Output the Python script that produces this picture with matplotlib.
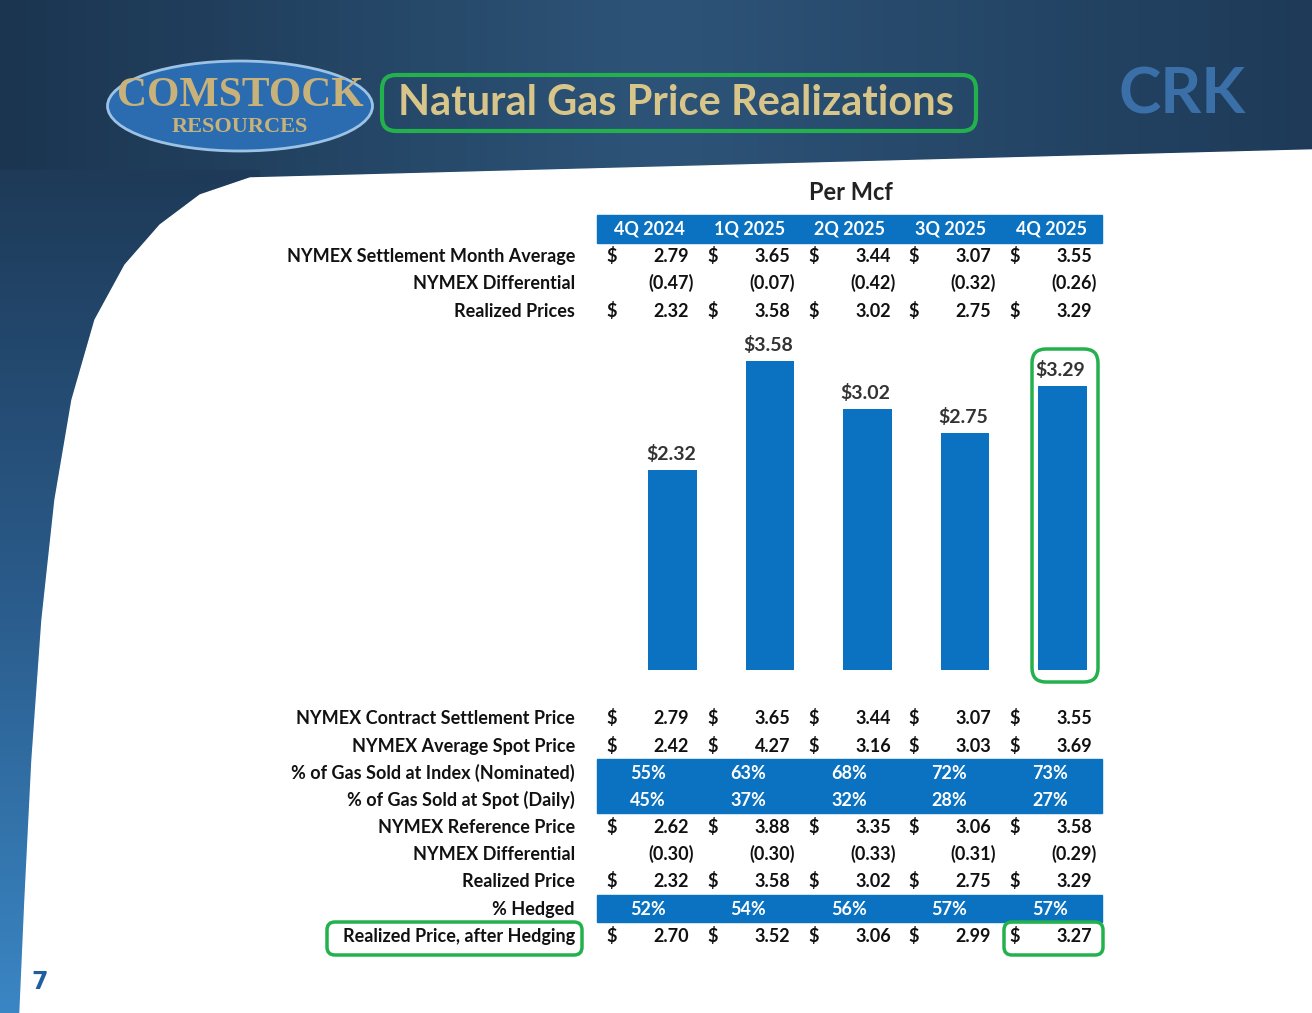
import matplotlib.pyplot as plt
import matplotlib.patches as mpatches
import numpy as np

quarters = ['4Q 2024', '1Q 2025', '2Q 2025', '3Q 2025', '4Q 2025']
settle_avg = [2.79, 3.65, 3.44, 3.07, 3.55]
diff_top = [-0.47, -0.07, -0.42, -0.32, -0.26]
realized = [2.32, 3.58, 3.02, 2.75, 3.29]
contract_settle = [2.79, 3.65, 3.44, 3.07, 3.55]
avg_spot = [2.42, 4.27, 3.16, 3.03, 3.69]
pct_index = [55, 63, 68, 72, 73]
pct_spot = [45, 37, 32, 28, 27]
ref_price = [2.62, 3.88, 3.35, 3.06, 3.58]
diff_bottom = [-0.30, -0.30, -0.33, -0.31, -0.29]
pct_hedged = [52, 54, 56, 57, 57]
after_hedge = [2.70, 3.52, 3.06, 2.99, 3.27]

W, H = 1312, 1013
fig = plt.figure(figsize=(W / 100, H / 100), dpi=100)
bg = fig.add_axes([0, 0, 1, 1])
bg.set_xlim(0, W)
bg.set_ylim(H, 0)
bg.axis('off')

# background: navy header with gradient, blue left strip, white body
grad = np.linspace(0, 1, 256).reshape(1, -1)
bg.imshow(grad, extent=[0, W, H, 0], cmap=plt.cm.colors.LinearSegmentedColormap.from_list(
    'n', ['#1b3550', '#2d5478', '#1e3a58']), aspect='auto', zorder=0)
vgrad = np.linspace(0, 1, 256).reshape(-1, 1)
bg.imshow(vgrad, extent=[0, 260, H, 170], cmap=plt.cm.colors.LinearSegmentedColormap.from_list(
    'v', ['#1e3a58', '#2a5b8a', '#3a86c4']), aspect='auto', zorder=1)
curve = [(250, 178), (200, 195), (160, 225), (125, 265), (95, 320), (72, 400),
         (55, 500), (42, 620), (32, 760), (25, 900), (20, H)]
white = [(W, H)] + curve[::-1] + [(W, 150)]
bg.add_patch(mpatches.Polygon(white, color='white', zorder=2))

font = 'Lato'
# logo
bg.add_patch(mpatches.Ellipse((240, 106), 265, 90, color='#2b6cb0', ec='#9cc3e6', lw=2, zorder=3))
bg.text(240, 96, 'COMSTOCK', ha='center', va='center', fontsize=30, fontweight='bold',
        color='#c9b27a', family='Liberation Serif', zorder=4)
bg.text(240, 127, 'RESOURCES', ha='center', va='center', fontsize=16, fontweight='bold',
        color='#c9b27a', family='Liberation Serif', zorder=4)
bg.text(676, 103, 'Natural Gas Price Realizations', ha='center', va='center', fontsize=30,
        color='#d8c58a', family=font, fontweight='bold', zorder=4)
bg.add_patch(mpatches.FancyBboxPatch((382, 75), 594, 56, boxstyle='round,pad=0,rounding_size=14',
                                     fill=False, ec='#22b14c', lw=3, zorder=4))
bg.text(1182, 95, 'CRK', ha='center', va='center', fontsize=46, fontweight='bold',
        color='#3a6fa8', family=font, zorder=4)
bg.text(40, 982, '7', ha='center', va='center', fontsize=17, fontweight='bold', color='#1f5fa0', zorder=4)
bg.text(851, 192, 'Per Mcf', ha='center', va='center', fontsize=17, fontweight='bold', color='#222', family=font, zorder=4)

blue = '#0a72c0'
fs = 13
dol_x = [612, 713, 814, 914, 1015]
val_x = [689, 790, 891, 991, 1092]
pct_x = [648, 748, 849, 949, 1050]

bg.add_patch(mpatches.Rectangle((597, 215), 505, 28, color=blue, zorder=3))
for i, q in enumerate(quarters):
    bg.text(649 + 100.5 * i, 229, q, ha='center', va='center', fontsize=fs, color='white',
            fontweight='bold', family=font, zorder=4)

def money_row(y, label, vals, dollar=True):
    bg.text(575, y, label, ha='right', va='center', fontsize=fs, fontweight='bold', family=font, color='#111', zorder=4)
    for i, v in enumerate(vals):
        if v < 0:
            bg.text(val_x[i] + 5, y, '(%.2f)' % -v, ha='right', va='center', fontsize=fs,
                    fontweight='bold', family=font, color='#111', zorder=4)
        else:
            bg.text(val_x[i], y, '%.2f' % v, ha='right', va='center', fontsize=fs,
                    fontweight='bold', family=font, color='#111', zorder=4)
            if dollar:
                bg.text(dol_x[i], y, '$', ha='center', va='center', fontsize=fs,
                        fontweight='bold', family=font, color='#111', zorder=4)

def pct_row(y, label, vals):
    bg.text(575, y, label, ha='right', va='center', fontsize=fs, fontweight='bold', family=font, color='#111', zorder=4)
    for i, v in enumerate(vals):
        bg.text(pct_x[i], y, '%d%%' % v, ha='center', va='center', fontsize=fs,
                fontweight='bold', family=font, color='white', zorder=4)

money_row(256, 'NYMEX Settlement Month Average', settle_avg)
money_row(283, 'NYMEX Differential', diff_top)
money_row(311, 'Realized Prices', realized)

bg.add_patch(mpatches.Rectangle((597, 759), 505, 54, color=blue, zorder=3))
bg.add_patch(mpatches.Rectangle((597, 895), 505, 27, color=blue, zorder=3))
money_row(718, 'NYMEX Contract Settlement Price', contract_settle)
money_row(746, 'NYMEX Average Spot Price', avg_spot)
pct_row(773, '% of Gas Sold at Index (Nominated)', pct_index)
pct_row(800, '% of Gas Sold at Spot (Daily)', pct_spot)
money_row(827, 'NYMEX Reference Price', ref_price)
money_row(854, 'NYMEX Differential', diff_bottom)
money_row(881, 'Realized Price', realized)
pct_row(909, '% Hedged', pct_hedged)
money_row(936, 'Realized Price, after Hedging', after_hedge)

green = '#22b14c'
bg.add_patch(mpatches.FancyBboxPatch((327, 922), 255, 33, boxstyle='round,pad=0,rounding_size=8',
                                     fill=False, ec=green, lw=2.5, zorder=5))
bg.add_patch(mpatches.FancyBboxPatch((1004, 922), 99, 33, boxstyle='round,pad=0,rounding_size=8',
                                     fill=False, ec=green, lw=2.5, zorder=5))
bg.add_patch(mpatches.FancyBboxPatch((1032, 349), 66, 333, boxstyle='round,pad=0,rounding_size=14',
                                     fill=False, ec=green, lw=2.5, zorder=5))

# bar chart: zero at y=670, 3.58 at y=361
ax = fig.add_axes([624 / W, 1 - 670 / H, (1111 - 624) / W, (670 - 300) / H])
ax.set_xlim(-0.5, 4.5)
ax.set_ylim(0, 370 / 86.3)
ax.axis('off')
ax.bar(range(5), realized, width=0.5, color=blue)
for i, v in enumerate(realized):
    ax.text(i - 0.02, v + 0.08, '$%.2f' % v, ha='center', va='bottom', fontsize=14,
            fontweight='bold', family=font, color='#333')

fig.savefig('out.png', dpi=100)
